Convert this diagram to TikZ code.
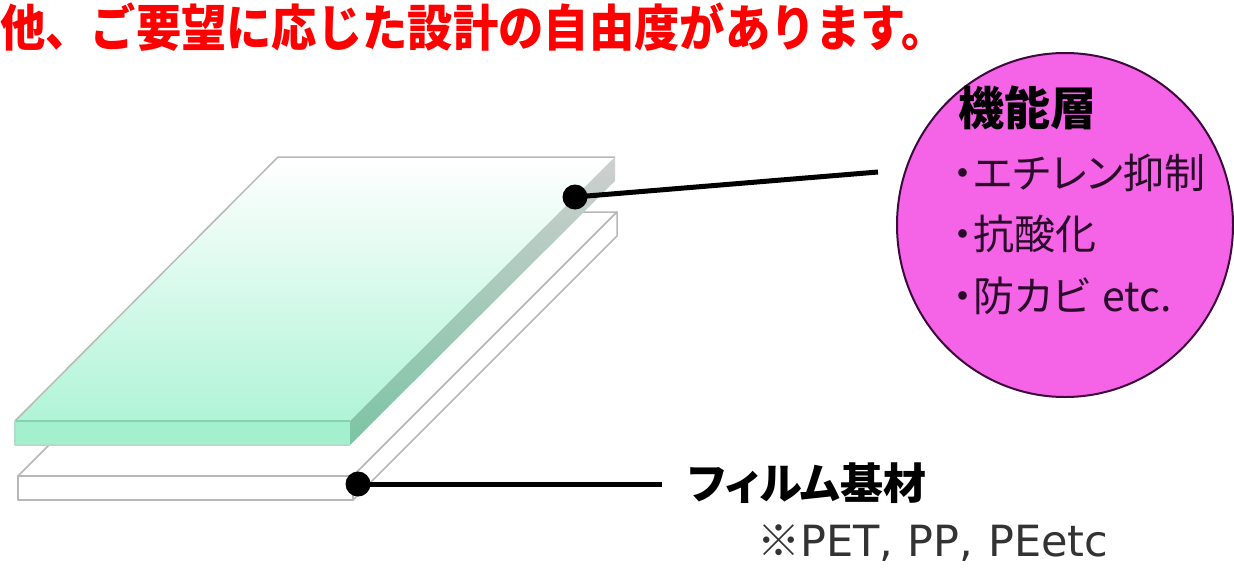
\documentclass[tikz,border=0pt]{standalone}
\usepackage{fontspec}
\newfontfamily\jp{Noto Sans CJK JP}
\newfontfamily\jpp[RawFeature=+palt]{Noto Sans CJK JP}
\newfontfamily\lat{DejaVu Sans}
\usetikzlibrary{shapes.geometric}
\definecolor{titlered}{HTML}{FF0000}
\definecolor{slabedge}{HTML}{B8B8B8}
\definecolor{mintfront}{HTML}{A2F0CE}
\definecolor{minttop}{HTML}{B0F4D7}
\definecolor{sidetop}{HTML}{CFCFCF}
\definecolor{sidebot}{HTML}{7CC4A4}
\definecolor{pinkfill}{HTML}{F564E6}
\definecolor{pinkedge}{HTML}{3C0A3C}
\definecolor{ellipsetext}{HTML}{2A0A2A}
\definecolor{notegray}{HTML}{333333}
\tikzset{
  edgeline/.style={draw=slabedge, line width=1.5pt, line join=round},
  dotnode/.style={circle, fill=black, minimum size=25pt, inner sep=0pt},
  conn/.style={line width=5pt, black},
  bubble/.style={ellipse, draw=pinkedge, line width=2pt, fill=pinkfill, minimum width=336pt, minimum height=344pt, inner sep=0pt},
  bubbletext/.style={anchor=west, inner sep=0pt, text=ellipsetext, font=\jpp\fontsize{41}{44}\selectfont},
  labeltext/.style={anchor=west, inner sep=0pt}
}
\begin{document}
\begin{tikzpicture}[x=1pt,y=-1pt]
\useasboundingbox (0,0) rectangle (1234,568);
% title
\node[labeltext, text=titlered, font=\jp\bfseries\fontsize{45.3}{48}\selectfont] (title) at (0,27) {\scalebox{1}[1.1]{他、ご要望に応じた設計の自由度があります。}};
% bottom slab (film base)
\coordinate (bFL) at (18,476);
\coordinate (bFR) at (353,476);
\coordinate (bFRb) at (353,500);
\coordinate (bFLb) at (18,500);
\coordinate (bBR) at (617,212);
\coordinate (bBRb) at (617,236);
\coordinate (bBL) at (282,212);
\filldraw[edgeline, fill=white] (bFL) -- (bBL) -- (bBR) -- (bFR) -- cycle;
\filldraw[edgeline, fill=white] (bFR) -- (bBR) -- (bBRb) -- (bFRb) -- cycle;
\filldraw[edgeline, fill=white] (bFL) rectangle (bFRb);
% top slab (functional layer)
\coordinate (gFL) at (15,421);
\coordinate (gFR) at (350,421);
\coordinate (gBR) at (615,157);
\coordinate (gBL) at (278,157);
\coordinate (gFLb) at (15,445);
\coordinate (gFRb) at (350,445);
\coordinate (gBRb) at (615,181);
\shade[top color=white, bottom color=minttop] (gFL) -- (gBL) -- (gBR) -- (gFR) -- cycle;
\draw[edgeline] (gFL) -- (gBL) -- (gBR);
\shade[top color=sidetop, bottom color=sidebot] (gFR) -- (gBR) -- (gBRb) -- (gFRb) -- cycle;
\fill[mintfront] (gFL) rectangle (gFRb);
\draw[draw=sidebot!70!mintfront, line width=1.2pt] (gFL) -- (gFR);
\draw[edgeline, draw=sidebot!60!white] (gFL) -- (gFLb) -- (gFRb);
% dots and connectors
\node[dotnode] (d1) at (575,197) {};
\node[dotnode] (d2) at (358,484) {};
\coordinate (e1) at (878,172);
\coordinate (e2) at (662,484);
\draw[conn] (d1.center) -- (e1);
\draw[conn] (d2.center) -- (e2);
% bubble
\node[bubble] (fn) at (1065,225) {};
\node[labeltext, text=black, font=\jp\bfseries\fontsize{46}{50}\selectfont] (fnh) at (958,108) {機能層};
\node[bubbletext] (fn1) at (953,173) {・エチレン抑制};
\node[bubbletext] (fn2) at (953,234) {・抗酸化};
\node[bubbletext] (fn3) at (953,296) {・防カビ\hspace{12pt}etc.};
% film base label
\node[labeltext, text=black, font=\jpp\bfseries\fontsize{43}{46}\selectfont] (film) at (688,483) {フィルム基材};
\node[labeltext, text=notegray, font=\lat\fontsize{43}{46}\selectfont] (note) at (757,543) {{\jp ※}PET,\hspace{1pt} PP,\hspace{1pt} PEetc};
\end{tikzpicture}
\end{document}
